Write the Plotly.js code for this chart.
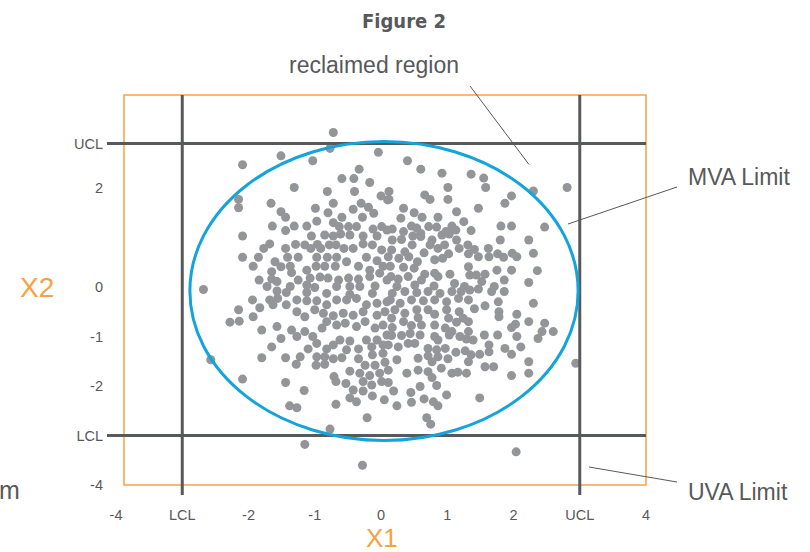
<!DOCTYPE html>
<html><head><meta charset="utf-8">
<script src="https://cdn.plot.ly/plotly-3.0.1.min.js"></script>
<style>html,body{margin:0;padding:0;background:#fff}#chart{width:810px;height:552px}</style>
</head><body><div id="chart"></div>
<script>
// ---- data ----
const xTickVals = [-4, -3, -2, -1, 0, 1, 2, 3, 4];
const xTickText = ['-4', 'LCL', '-2', '-1', '0', '1', '2', 'UCL', '4'];
const yTickVals = [-4, -3, -2, -1, 0, 2, 2.9];
const yTickText = ['-4', 'LCL', '-2', '-1', '0', '2', 'UCL'];
const x1Limits = [-3, 3];      // LCL, UCL of X1
const x2Limits = [-3, 2.9];    // LCL, UCL of X2
const mvaCenter = [0.045, -0.08];
const mvaRadius = [2.93, 3.02];

// upper-left block
const ulX1 = [-0.72,-0.77,-0.04,-1.51,-1.03,-2.09,-0.33,-0.59,-0.41,-0.17,
-1.31,-0.81,-0.40,0.00,-2.15,-2.15,-1.66,-0.72,-0.30,0.10,
-1.51,-1.44,-0.99,-0.80,-0.42,-0.19,-0.11,-0.28,-0.59,-0.97,
-0.72,-1.64,-1.31,-1.12,-0.63,-0.49,-0.37,0.01,-0.12,-1.44,
-1.05,-0.85,-0.72,-0.61,-0.47,-0.27,-0.06,0.09,-2.09,-1.68,
-1.77,-1.29,-1.15,-0.96,-0.91,-0.78,-0.68,-0.56,-0.42,-0.27,
-0.13,0.01,-1.44,-1.06,-2.09,-1.85,-1.41,-1.25,-0.97,-0.81,
-0.67,-0.52,-0.22,-0.06,-1.93,-1.60,-1.51,-1.37,-1.12,-0.98,
-0.85,-0.69,-0.34,-0.17,0.03,-1.65,-1.35,-1.84,-1.65,-1.57,
-1.25,-1.07,-0.92,-0.80,-0.64,-0.49,-0.34,-0.17,-0.02,0.09,
-1.72,-1.37,-1.12,-1.00,-0.67,-0.47,-0.32,-0.09,-2.68,
-1.57,-1.43,-1.12,-0.82,-0.47,-0.13];
const ulX2 = [3.12,2.80,2.72,2.65,2.55,2.47,2.38,2.19,2.19,2.11,
2.01,1.93,1.93,1.84,1.77,1.60,1.69,1.69,1.69,1.76,
1.52,1.41,1.59,1.50,1.57,1.61,1.49,1.41,1.41,1.33,
1.30,1.23,1.23,1.23,1.22,1.22,1.22,1.22,1.17,1.14,
1.03,1.05,1.03,1.07,1.05,1.03,1.03,1.15,1.03,0.87,
0.78,0.86,0.85,0.86,0.78,0.85,0.85,0.78,0.78,0.87,
0.85,0.75,0.78,0.78,0.60,0.60,0.60,0.60,0.60,0.60,
0.60,0.51,0.60,0.53,0.42,0.51,0.41,0.42,0.34,0.42,
0.42,0.42,0.42,0.34,0.42,0.31,0.29,0.14,0.16,0.11,
0.14,0.18,0.20,0.18,0.14,0.18,0.16,0.21,0.28,0.14,
0.01,0.01,0.04,-0.01,0.01,0.01,0.01,0.02,-0.05,
-0.08,-0.11,-0.11,-0.13,-0.15,-0.13];

// upper-right block
const urX1 = [0.40,0.60,0.92,1.36,1.55,1.58,1.01,0.12,0.12,0.66,
0.74,1.01,2.30,2.81,1.97,1.87,1.47,0.34,0.50,1.14,
0.30,0.62,0.86,1.25,0.46,0.17,0.34,0.54,0.60,0.72,
0.84,0.98,1.07,1.13,1.36,1.81,1.97,2.47,0.17,0.31,
0.48,0.60,0.77,0.92,1.03,1.14,1.80,2.23,0.47,0.74,
0.86,0.96,1.18,1.31,1.41,1.62,0.16,0.36,0.65,1.32,
1.47,1.63,1.76,1.85,1.98,2.05,2.30,0.11,0.27,0.42,
0.55,0.81,0.93,1.02,0.14,0.34,0.50,0.66,0.81,1.04,
1.32,1.34,1.44,1.57,1.75,1.97,2.36,0.15,0.26,0.41,
0.61,0.86,1.11,1.26,1.52,1.71,1.86,2.23,0.24,0.51,0.80];
const urX2 = [2.55,2.38,2.30,2.28,2.20,2.01,2.01,1.93,1.77,1.86,
1.77,1.77,1.94,2.01,1.84,1.69,1.59,1.59,1.50,1.52,
1.39,1.41,1.41,1.32,1.23,1.17,1.12,1.19,1.08,1.22,
1.21,1.12,1.23,1.15,1.14,1.23,1.23,1.21,0.95,0.96,
1.03,1.02,0.95,1.05,1.07,0.95,0.95,0.95,0.85,0.85,
0.78,0.85,0.78,0.85,0.76,0.78,0.75,0.71,0.69,0.67,
0.61,0.61,0.67,0.60,0.68,0.61,0.68,0.61,0.58,0.61,
0.51,0.55,0.58,0.67,0.42,0.40,0.38,0.26,0.28,0.26,
0.41,0.24,0.24,0.26,0.34,0.34,0.33,0.21,0.16,0.21,
0.14,0.21,0.07,0.01,0.11,0.01,0.14,0.09,0.01,0.04,0.02];

// lower-left block
const llX1 = [-1.94,-1.83,-2.15,-1.93,-2.28,-2.14,-1.68,-1.56,-1.63,-1.43,
-1.27,-1.12,-0.97,-1.27,-1.15,-1.00,-0.82,-0.67,-0.52,-0.37,
-0.22,-0.06,0.09,-0.87,-0.72,-0.57,-0.42,-0.27,-0.06,0.06,
-1.80,-1.57,-1.35,-1.27,-1.15,-1.03,-0.89,-0.82,-0.67,-0.54,
-0.37,-0.24,-0.09,0.03,-1.51,-0.97,-0.72,-0.62,-0.47,-0.22,
-0.06,0.09,-1.65,-1.10,-0.82,-0.52,-0.34,-0.14,0.03,-1.80,
-1.44,-1.22,-1.28,-0.97,-0.98,-0.85,-0.85,-0.72,-0.59,-0.34,
-0.13,0.03,-0.24,-0.09,0.06,-2.57,-0.47,-0.32,-0.17,-0.02,
-2.09,-1.44,-0.71,-0.68,-0.53,-0.27,-0.14,0.01,-1.16,-0.42,
-0.27,-0.13,0.05,-0.47,-0.37,-1.38,-1.27,-0.68,-0.21,-0.77,-1.15];
const llX2 = [-0.26,-0.42,-0.46,-0.60,-0.71,-0.69,-0.26,-0.23,-0.36,-0.36,
-0.26,-0.28,-0.28,-0.50,-0.60,-0.46,-0.36,-0.26,-0.26,-0.23,
-0.36,-0.33,-0.30,-0.53,-0.58,-0.53,-0.57,-0.50,-0.57,-0.50,
-0.87,-0.80,-0.87,-1.00,-0.90,-1.00,-0.83,-0.70,-0.77,-0.73,
-0.80,-0.70,-0.83,-0.77,-1.04,-1.14,-1.17,-1.07,-1.09,-1.07,
-1.07,-0.97,-1.21,-1.25,-1.25,-1.27,-1.25,-1.21,-1.17,-1.43,
-1.43,-1.41,-1.56,-1.41,-1.58,-1.41,-1.56,-1.45,-1.43,-1.45,
-1.37,-1.34,-1.58,-1.58,-1.52,-1.47,-1.70,-1.74,-1.79,-1.74,
-1.86,-1.93,-1.81,-1.91,-1.95,-1.91,-1.98,-1.91,-2.09,-2.08,
-2.10,-2.20,-2.28,-2.24,-2.32,-2.40,-2.44,-2.37,-2.64,-2.87,-3.18];

// lower-right block
const lrX1 = [0.17,0.36,0.54,0.71,0.89,1.07,1.21,1.34,1.47,1.67,
1.86,2.30,0.14,0.29,0.46,0.64,0.81,0.99,1.17,1.32,
1.41,1.57,1.77,1.78,1.78,2.05,0.21,0.36,0.54,0.71,
0.81,0.99,1.18,1.24,1.02,0.56,0.16,0.34,0.17,0.46,
0.61,0.81,0.97,1.14,1.32,1.32,1.07,2.23,2.47,1.97,
2.03,2.60,2.43,2.37,0.16,0.31,0.44,0.59,0.81,0.86,
1.03,1.19,1.29,1.39,1.56,1.76,2.05,0.11,0.26,0.41,
0.51,0.71,0.84,0.97,1.13,1.27,1.36,1.49,1.63,1.63,
1.87,1.97,2.11,0.24,0.56,0.71,0.86,1.01,0.77,1.32,
1.57,1.70,2.23,2.94,0.11,0.39,0.56,0.71,0.91,1.07,
1.16,1.29,1.97,2.23,0.11,0.77,0.84,0.19,0.45,0.59,
0.99,1.49,0.24,0.46,0.65,0.79,0.86,0.69,0.75,
-0.28,2.04];
const lrX2 = [-0.13,-0.09,-0.11,-0.09,-0.13,-0.09,-0.09,-0.06,-0.04,-0.09,
-0.09,-0.33,-0.26,-0.33,-0.26,-0.28,-0.26,-0.30,-0.23,-0.26,
-0.44,-0.38,-0.30,-0.50,-0.60,-0.55,-0.46,-0.53,-0.46,-0.46,
-0.55,-0.46,-0.50,-0.63,-0.63,-0.62,-0.63,-0.70,-0.82,-0.78,
-0.77,-0.77,-0.83,-0.71,-0.70,-0.90,-0.90,-0.70,-0.73,-0.82,
-0.75,-0.90,-0.90,-1.04,-0.98,-0.98,-0.94,-0.97,-1.00,-1.07,
-0.97,-1.00,-1.05,-1.07,-0.97,-0.97,-1.00,-1.17,-1.21,-1.14,
-1.14,-1.24,-1.27,-1.24,-1.32,-1.29,-1.37,-1.36,-1.17,-1.31,
-1.24,-1.36,-1.21,-1.47,-1.44,-1.39,-1.41,-1.45,-1.51,-1.51,
-1.61,-1.61,-1.51,-1.54,-1.68,-1.74,-1.68,-1.71,-1.64,-1.74,
-1.72,-1.74,-1.79,-1.74,-1.93,-1.83,-1.99,-2.10,-2.13,-2.01,
-2.18,-2.24,-2.40,-2.33,-2.26,-2.32,-2.40,-2.64,-2.77,
-3.60,-3.33];

// ---- drawing ----
const X1 = ulX1.concat(urX1, llX1, lrX1);
const X2 = ulX2.concat(urX2, llX2, lrX2);

const GREY = '#58595b';
const ORANGE = '#f6a244';
const FONT = '"Liberation Sans", Arial, sans-serif';

const W = 810, H = 552, ML = 107, MR = 162, MT = 93, MB = 55;
const PW = W - ML - MR, PH = H - MT - MB;
const px = v => (v - ML) / PW;
const py = v => (H - MB - v) / PH;

const xRange = [-4.136, 4.03];
const yRange = [-4.242, 3.919];
const frameX = [-3.88, 4.0];
const frameY = [-4.0, 3.88];

const shapes = [];
// orange frame
shapes.push({type:'rect', xref:'x', yref:'y', x0:frameX[0], x1:frameX[1], y0:frameY[0], y1:frameY[1],
  line:{color:ORANGE, width:1.5}, layer:'below'});
// vertical control limits (X1)
x1Limits.forEach(v => shapes.push({type:'line', xref:'x', yref:'y', x0:v, x1:v, y0:yRange[0]+0.04, y1:frameY[1],
  line:{color:GREY, width:3}}));
// horizontal control limits (X2)
x2Limits.forEach(v => shapes.push({type:'line', xref:'x', yref:'y', x0:xRange[0], x1:frameX[1], y0:v, y1:v,
  line:{color:GREY, width:3}}));
// MVA ellipse
shapes.push({type:'circle', xref:'x', yref:'y',
  x0:mvaCenter[0]-mvaRadius[0], x1:mvaCenter[0]+mvaRadius[0],
  y0:mvaCenter[1]-mvaRadius[1], y1:mvaCenter[1]+mvaRadius[1],
  line:{color:'#13a4da', width:3}});
// leader lines
[[470,86,529,164.5],[677,187,568,224],[677,482,589,467]].forEach(l => shapes.push({
  type:'line', xref:'paper', yref:'paper', x0:px(l[0]), y0:py(l[1]), x1:px(l[2]), y1:py(l[3]),
  line:{color:GREY, width:1}}));

function ann(text, x, y, size, color, opts) {
  return Object.assign({text:text, xref:'paper', yref:'paper', x:px(x), y:py(y), showarrow:false,
    xanchor:'center', yanchor:'middle', font:{family:FONT, size:size, color:color}}, opts||{});
}
const annotations = [
  ann('<b>Figure 2</b>', 404, 21, 20, GREY, {font:{family:'"Liberation Sans Narrow","DejaVu Sans Condensed",'+FONT, size:20, color:GREY}}),
  ann('reclaimed region', 374, 65, 23, GREY),
  ann('MVA Limit', 686, 177, 23, GREY, {xanchor:'left'}),
  ann('UVA Limit', 686, 492, 23, GREY, {xanchor:'left'}),
  ann('X2', 37, 287, 28, ORANGE),
  ann('X1', 382, 538, 26, ORANGE),
  ann('m', -3, 490, 25, GREY, {xanchor:'left'})
];

const trace = {type:'scatter', mode:'markers', x:X1, y:X2,
  marker:{size:9, color:'#939598', line:{width:0}}, hoverinfo:'skip', cliponaxis:true};

const axisCommon = {showgrid:false, zeroline:false, showline:false, ticks:'', fixedrange:true,
  tickfont:{family:FONT, size:14.5, color:GREY}};

const layout = {
  width:W, height:H, margin:{l:ML, r:MR, t:MT, b:MB, pad:0},
  paper_bgcolor:'#fff', plot_bgcolor:'#fff', showlegend:false,
  xaxis:Object.assign({}, axisCommon, {range:xRange, tickmode:'array', tickvals:xTickVals, ticktext:xTickText, ticklabelstandoff:7}),
  yaxis:Object.assign({}, axisCommon, {range:yRange, tickmode:'array', tickvals:yTickVals, ticktext:yTickText, ticklabelstandoff:3}),
  shapes:shapes, annotations:annotations
};

Plotly.newPlot('chart', [trace], layout, {displayModeBar:false, staticPlot:true});
</script>
</body></html>
